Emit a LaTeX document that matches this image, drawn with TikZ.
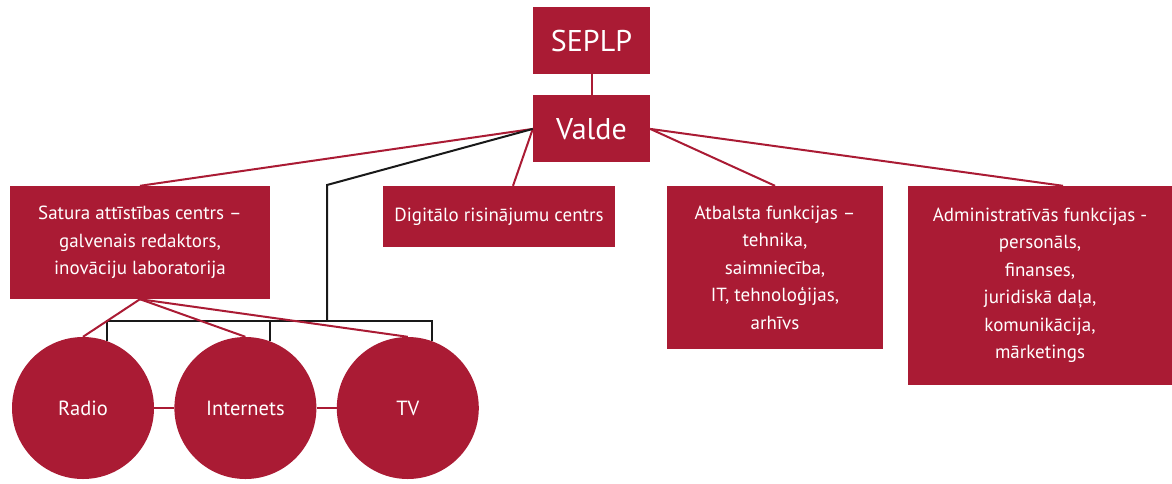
\documentclass[tikz,border=0pt]{standalone}
\usepackage{fontspec}
\setmainfont{PT Sans}
\usepackage{xcolor}
\usepackage{tikz}
\usetikzlibrary{positioning}
\definecolor{crimson}{RGB}{170,27,52}
\tikzset{
  box/.style   ={fill=crimson, text=white, inner sep=0pt, align=center},
  big/.style   ={font=\fontsize{30}{36}\selectfont},
  txt/.style   ={font=\fontsize{19}{27.5}\selectfont},
  unit/.style  ={circle, fill=crimson, text=white, minimum size=142pt, inner sep=0pt, font=\fontsize{20.5}{24}\selectfont},
  link/.style  ={draw=crimson, line width=2pt},
  feed/.style  ={draw=black!90, line width=2pt}
}
\begin{document}
\begin{tikzpicture}[x=1pt,y=-1pt]
    \useasboundingbox (0,0) rectangle (1172,483);
    % top of the tree
    \node[box, big, minimum width=117pt, minimum height=67pt] (seplp) at (591.5,40.5) {SEPLP};
    \node[box, big, minimum width=117pt, minimum height=67pt, below=21pt of seplp] (valde) {Valde};
    % centres and functions
    \node[box, txt, minimum width=260pt, minimum height=113pt] (satura) at (140,242.5) {Satura attīstības centrs –\\galvenais redaktors,\\inovāciju laboratorija};
    \node[box, txt, minimum width=232pt, minimum height=61pt] (digit) at (499,216.5) {Digitālo risinājumu centrs};
    \node[box, txt, minimum width=216pt, minimum height=163pt] (atbalsts) at (775,267.5) {Atbalsta funkcijas –\\tehnika,\\saimniecība,\\IT, tehnoloģijas,\\arhīvs};
    \node[box, txt, minimum width=264pt, minimum height=199pt] (admin) at (1040,285.5) {Administratīvās funkcijas -\\personāls,\\finanses,\\juridiskā daļa,\\komunikācija,\\mārketings};
    % media
    \node[unit] (radio) at (83,408) {\raisebox{-3pt}{Radio}};
    \node[unit, right=20pt of radio] (internets) {\raisebox{-3pt}{Internets}};
    \node[unit, right=20pt of internets] (tv) {\raisebox{-3pt}{TV}};
    % links from the board
    \draw[link] (seplp.south) -- (valde.north);
    \draw[link] (valde.west) -- (satura.north);
    \draw[link] (valde.west) -- ([xshift=14pt]digit.north);
    \draw[link] (valde.east) -- (atbalsts.north);
    \draw[link] (valde.east) -- ([xshift=23pt]admin.north);
    % black bus down to the media
    \coordinate (bend) at (327,185);
    \coordinate (bus) at (327,321);
    \draw[feed] (valde.west) -- (bend) -- (bus);
    \draw[feed] (radio.70) |- (bus) -| (tv.70);
    \draw[feed] (internets.70) -- (internets.70 |- bus);
    % content centre to media
    \draw[link] (satura.south) -- (radio.north);
    \draw[link] (satura.south) -- (internets.north);
    \draw[link] (satura.south) -- (tv.north);
    \draw[link] (radio.east) -- (internets.west);
    \draw[link] (internets.east) -- (tv.west);
  \end{tikzpicture}
\end{document}
